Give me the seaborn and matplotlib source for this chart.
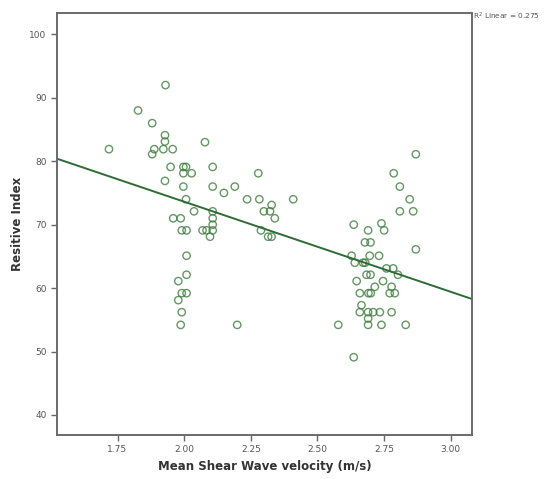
import matplotlib
matplotlib.use('Agg')
import matplotlib.pyplot as plt
import numpy as np
import pandas as pd
import seaborn as sns

# values
shear_velocity = [
    1.930, 1.827, 1.880, 1.928, 1.928, 2.078, 1.718, 1.888, 1.922, 1.957,
    1.880, 2.869, 1.949, 1.997, 2.007, 2.107, 1.997, 2.028, 2.278, 2.786,
    1.928, 1.997, 2.107, 2.190, 2.809, 2.149, 2.007, 2.236, 2.282, 2.409,
    2.846, 2.328, 2.037, 2.107, 2.299, 2.322, 2.809, 2.859, 1.959, 1.987,
    2.107, 2.340, 2.107, 2.636, 2.740, 1.991, 2.009, 2.069, 2.084, 2.107,
    2.288, 2.690, 2.750, 2.097, 2.315, 2.328, 2.678, 2.699, 2.869, 2.009,
    2.628, 2.696, 2.731, 2.640, 2.671, 2.679, 2.759, 2.784, 2.009, 2.684,
    2.699, 2.802, 1.978, 2.647, 2.746, 2.715, 2.778, 1.991, 2.009, 2.659,
    2.691, 2.700, 2.771, 2.790, 1.978, 2.665, 1.991, 2.659, 2.690, 2.709,
    2.734, 2.778, 2.690, 1.987, 2.199, 2.578, 2.690, 2.740, 2.831, 2.636,
]
resistive_index = [
    92.0, 88.0, 86.0, 84.1, 83.1, 83.0, 81.9, 81.9, 81.9, 81.9,
    81.1, 81.1, 79.1, 79.1, 79.1, 79.1, 78.1, 78.1, 78.1, 78.1,
    76.9, 76.0, 76.0, 76.0, 76.0, 75.0, 74.0, 74.0, 74.0, 74.0,
    74.0, 73.1, 72.1, 72.1, 72.1, 72.1, 72.1, 72.1, 71.0, 71.0,
    71.0, 71.0, 70.0, 70.0, 70.2, 69.1, 69.1, 69.1, 69.1, 69.1,
    69.1, 69.1, 69.1, 68.1, 68.1, 68.1, 67.2, 67.2, 66.1, 65.1,
    65.1, 65.1, 65.1, 64.0, 64.0, 64.0, 63.1, 63.1, 62.1, 62.1,
    62.1, 62.1, 61.1, 61.1, 61.1, 60.2, 60.2, 59.2, 59.2, 59.2,
    59.2, 59.2, 59.2, 59.2, 58.1, 57.3, 56.2, 56.2, 56.2, 56.2,
    56.2, 56.2, 55.2, 54.2, 54.2, 54.2, 54.2, 54.2, 54.2, 49.1,
]

x_ticks = [1.75, 2.00, 2.25, 2.50, 2.75, 3.00]
x_tick_labels = ['1.75', '2.00', '2.25', '2.50', '2.75', '3.00']
y_ticks = [40, 50, 60, 70, 80, 90, 100]
y_tick_labels = ['40', '50', '60', '70', '80', '90', '100']
r2_label = 'R$^2$ Linear = 0.275'

df = pd.DataFrame({'velocity': shear_velocity, 'ri': resistive_index})

sns.set_theme(style="white")
plt.rcParams['font.family'] = ['DejaVu Sans']

fig = plt.figure(figsize=(5.48, 4.79), dpi=100)
ax = fig.add_axes([0.104, 0.092, 0.757, 0.880])

# limits first so the fit line runs across the whole frame
ax.set_xlim(1.523, 3.079)
ax.set_ylim(36.85, 103.3)

sns.regplot(data=df, x='velocity', y='ri', ax=ax, ci=None, truncate=False,
            scatter_kws=dict(s=28, facecolors='none', edgecolors='#3d7d3d', linewidths=1.0),
            line_kws=dict(color='#2f6b36', linewidth=1.4))

ax.set_xlim(1.523, 3.079)
ax.set_ylim(36.85, 103.3)
ax.set_xticks(x_ticks)
ax.set_xticklabels(x_tick_labels)
ax.set_yticks(y_ticks)
ax.set_yticklabels(y_tick_labels)
ax.tick_params(axis='both', direction='out', length=4, width=1, color='#666666',
               labelsize=6.5, labelcolor='#555555', bottom=True, left=True)

for sp in ax.spines.values():
    sp.set_color('#6a6a6a')
    sp.set_linewidth(1.4)

ax.set_xlabel('Mean Shear Wave velocity (m/s)', fontsize=8.5, fontweight='bold', color='#333333')
ax.set_ylabel('Resitive Index', fontsize=8.5, fontweight='bold', color='#333333')

fig.text(0.864, 0.966, r2_label, fontsize=5.3, color='#555555', va='center', ha='left')

fig.savefig('out.png', dpi=100, facecolor='white')
